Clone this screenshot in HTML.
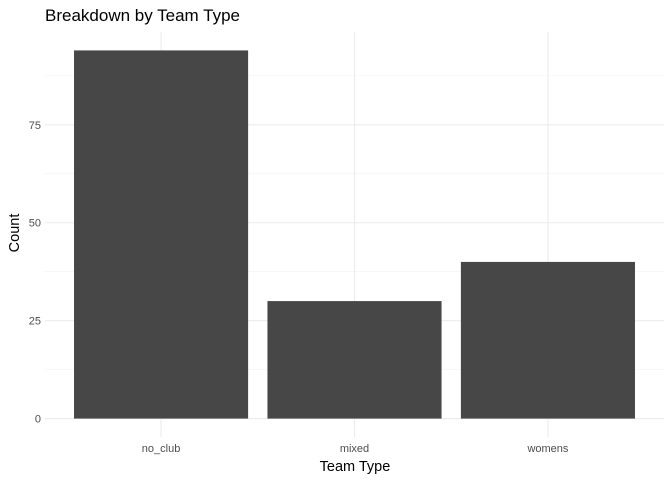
<!DOCTYPE html>
<html><head><meta charset="utf-8"><style>
body{margin:0;background:#fff;}
svg text{font-family:"Liberation Sans",Arial,sans-serif;}
</style></head><body>
<svg id="chart" width="672" height="480" xmlns="http://www.w3.org/2000/svg">
<text x="45" y="21" font-size="17" fill="#000">Breakdown by Team Type</text>
<g id="grid"></g>
<g id="bars"></g>
<g id="ticks"></g>
<text transform="translate(19,233) rotate(-90)" text-anchor="middle" font-size="14.5" fill="#000">Count</text>
<text x="355" y="471" text-anchor="middle" font-size="14.5" fill="#000">Team Type</text>
</svg>
<script>
const categories = ["no_club","mixed","womens"];
const counts = [94,30,40];
const yTicks = [0,25,50,75];
const yMinor = [12.5,37.5,62.5,87.5];

(function(){
const NS="http://www.w3.org/2000/svg";
const pL=45, pR=664, pT=32, pB=437;
const ymax=Math.max(...counts)*1.05, ymin=-Math.max(...counts)*0.05;
const y=v=>pB-(v-ymin)/(ymax-ymin)*(pB-pT);
const step=(pR-pL)/(categories.length-1+1.2);
const x=i=>pL+step*(0.6+i);
function mk(tag,attrs,parent){const e=document.createElementNS(NS,tag);for(const k in attrs)e.setAttribute(k,attrs[k]);parent.appendChild(e);return e;}
const grid=document.getElementById('grid'),bars=document.getElementById('bars'),ticks=document.getElementById('ticks');
yMinor.forEach(v=>{const l=mk('line',{x1:pL,x2:pR,y1:y(v),y2:y(v),stroke:'#f2f2f2','stroke-width':0.6},grid);

});
yTicks.forEach(v=>{const l=mk('line',{x1:pL,x2:pR,y1:y(v),y2:y(v),stroke:'#ebebeb','stroke-width':1.1},grid);


const t=mk('text',{x:41,y:y(v)+4,'text-anchor':'end','font-size':11,fill:'#4d4d4d'},ticks);t.textContent=v;

});
categories.forEach((c,i)=>{const l=mk('line',{x1:x(i),x2:x(i),y1:pT,y2:pB,stroke:'#ebebeb','stroke-width':1.1},grid);


const w=step*0.9;
const r=mk('rect',{x:x(i)-w/2,y:y(counts[i]),width:w,height:y(0)-y(counts[i]),fill:'#474747'},bars);


const t=mk('text',{x:x(i),y:452,'text-anchor':'middle','font-size':11,fill:'#4d4d4d'},ticks);t.textContent=c;

});
})();
</script>
</body></html>
